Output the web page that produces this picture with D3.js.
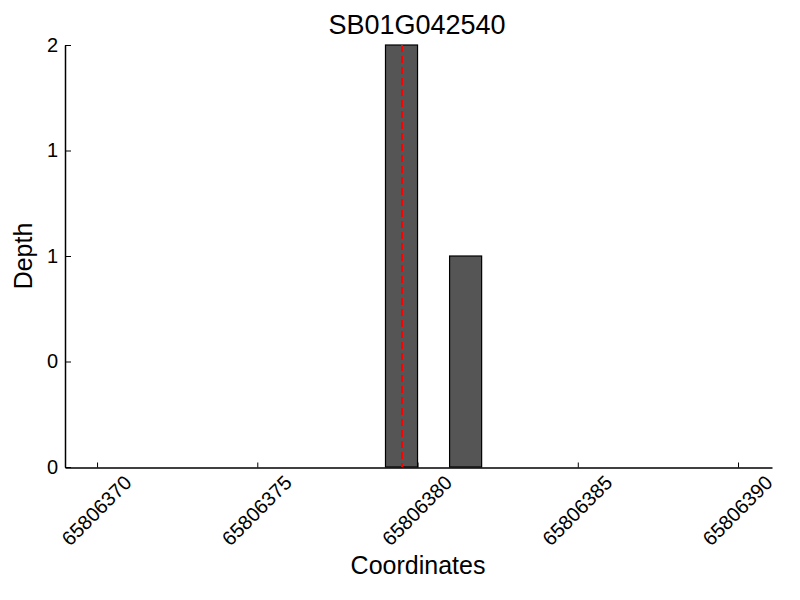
<!DOCTYPE html>
<html>
<head>
<meta charset="utf-8">
<script src="https://cdn.jsdelivr.net/npm/d3@7"></script>
<style>
  body { margin: 0; background: #fff; }
  text { font-family: "Liberation Sans", Arial, Helvetica, sans-serif; }
</style>
</head>
<body>
<svg id="chart" width="800" height="600"></svg>
<script>
const title = "SB01G042540";
const positions = [65806379, 65806381];
const depths = [2, 1];
const markerPos = [65806379.5];
const xDomain = [65806369, 65806391.06];
const xTicks = [65806370, 65806375, 65806380, 65806385, 65806390];
const yTicks = [0, 0.5, 1, 1.5, 2];
const yTickLabels = ["0", "0", "1", "1", "2"];

const svg = d3.select("#chart");
const mLeft = 65, mRight = 772, mTop = 45, mBottom = 467;

const x = d3.scaleLinear().domain(xDomain).range([mLeft, mRight]);
const y = d3.scaleLinear().domain([0, 2]).range([mBottom, mTop]);

// bars
svg.append("g").selectAll("rect").data(positions).join("rect")
  .attr("x", d => x(d))
  .attr("y", (d, i) => y(depths[i]))
  .attr("width", d => x(d + 1) - x(d))
  .attr("height", (d, i) => y(0) - y(depths[i]))
  .attr("fill", "#555555")
  .attr("stroke", "#000")
  .attr("stroke-width", 1.2);

// marker line
svg.append("g").selectAll("line").data(markerPos).join("line")
  .attr("x1", d => Math.round(x(d))).attr("x2", d => Math.round(x(d)))
  .attr("y1", y(2)).attr("y2", y(0))
  .attr("stroke", "#ff0000")
  .attr("stroke-width", 2)
  .attr("stroke-dasharray", "7,4");

// x axis
const xAxis = d3.axisBottom(x).tickValues(xTicks).tickFormat(d3.format("d"))
  .tickSizeInner(-5).tickSizeOuter(0).tickPadding(0);
const gx = svg.append("g").attr("transform", `translate(0,${mBottom + 0.5})`).call(xAxis);
gx.select(".domain").attr("stroke", "#000").attr("stroke-width", 1.5);
gx.selectAll(".tick line").attr("stroke", "#000");
gx.selectAll(".tick text")
  .attr("font-size", 20)
  .attr("fill", "#000")
  .attr("text-anchor", "middle")
  .attr("y", 0)
  .attr("dy", "0.35em")
  .attr("transform", "translate(-1,43) rotate(-45)");

// y axis
const yAxis = d3.axisLeft(y).tickValues(yTicks).tickFormat((d, i) => yTickLabels[i])
  .tickSizeInner(-6).tickSizeOuter(0).tickPadding(7);
const gy = svg.append("g").attr("transform", `translate(${mLeft},0)`).call(yAxis);
gy.select(".domain").attr("stroke", "#000").attr("stroke-width", 1.5);
gy.selectAll(".tick line").attr("stroke", "#000");
gy.selectAll(".tick text").attr("font-size", 20).attr("fill", "#000");

// title
svg.append("text").attr("x", 417).attr("y", 34)
  .attr("text-anchor", "middle").attr("font-size", 27).text(title);

// axis labels
svg.append("text").attr("x", 418).attr("y", 574)
  .attr("text-anchor", "middle").attr("font-size", 25).text("Coordinates");
svg.append("text").attr("transform", "translate(32,256) rotate(-90)")
  .attr("text-anchor", "middle").attr("font-size", 25).text("Depth");
</script>
</body>
</html>
